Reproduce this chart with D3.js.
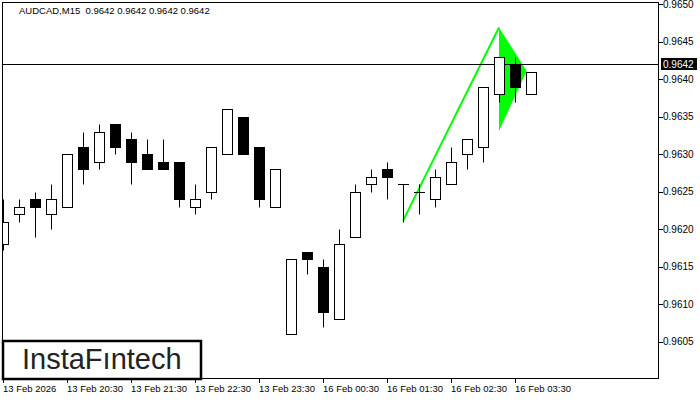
<!DOCTYPE html>
<html><head><meta charset="utf-8">
<script src="https://cdn.jsdelivr.net/npm/d3@7/dist/d3.min.js"></script>
<style>body{margin:0;background:#fff}svg{display:block}text{font-family:"Liberation Sans",Arial,sans-serif}</style>
</head><body><svg id="c" width="700" height="400"></svg>
<script>
const symbolTitle = "AUDCAD,M15  0.9642 0.9642 0.9642 0.9642";
const times = ["13 Feb 19:30","19:45","20:00","20:15","20:30","20:45","21:00","21:15","21:30","21:45","22:00","22:15","22:30","22:45","23:00","23:15","23:30","23:45",
 "16 Feb 00:00","00:15","00:30","00:45","01:00","01:15","01:30","01:45","02:00","02:15","02:30","02:45","03:00","03:15","03:30","03:45"];
const opens  = [0.9618,0.9622,0.9624,0.9622,0.9623,0.9631,0.9629,0.9634,0.9632,0.9630,0.9629,0.9629,0.9623,0.9625,0.9630,0.9635,0.9631,0.9623,0.9606,0.9617,0.9615,0.9608,0.9619,0.9626,0.9628,0.9626,0.9625,0.9624,0.9626,0.9630,0.9631,0.9638,0.9642,0.9638];
const highs  = [0.9624,0.9624,0.9625,0.9626,0.9630,0.9633,0.9634,0.9634,0.9633,0.9632,0.9632,0.9629,0.9626,0.9631,0.9636,0.9635,0.9631,0.9628,0.9616,0.9617,0.9616,0.9620,0.9626,0.9628,0.9629,0.9626,0.9626,0.9628,0.9631,0.9632,0.9639,0.9643,0.9643,0.9641];
const lows   = [0.96172,0.9621,0.9619,0.9620,0.9623,0.9626,0.9628,0.9630,0.9626,0.9628,0.9628,0.9623,0.9622,0.9624,0.9630,0.9630,0.9623,0.9623,0.9606,0.9614,0.9607,0.9608,0.9619,0.9625,0.9624,0.9621,0.9622,0.9623,0.9626,0.9628,0.9629,0.9637,0.9637,0.9638];
const closes = [0.9621,0.9623,0.9623,0.9624,0.9630,0.9628,0.9633,0.9631,0.9629,0.9628,0.9628,0.9624,0.9624,0.9631,0.9636,0.9630,0.9624,0.9628,0.9616,0.9616,0.9609,0.9618,0.9625,0.9627,0.9627,0.9626,0.9625,0.9627,0.9629,0.9632,0.9639,0.9643,0.9639,0.9641];
const yTicks = [0.9605,0.9610,0.9615,0.9620,0.9625,0.9630,0.9635,0.9640,0.9645,0.9650];
const xTickIdx = [0,4,8,12,16,20,24,28,32];
const xTickLabels = ["13 Feb 2026","13 Feb 20:30","13 Feb 21:30","13 Feb 22:30","13 Feb 23:30","16 Feb 00:30","16 Feb 01:30","16 Feb 02:30","16 Feb 03:30"];
const lastPrice = 0.9642;
// pennant pattern: pole from index 25 to 31, flag triangle
const poleIdx = [25,31], polePrice = [0.96211,0.96469];
const flagIdx = [31,32.73,31], flagPrice = [0.96469,0.96411,0.96331];
const logoText = "InstaFıntech";

const svg = d3.select("#c");
const L=2,T=2,R=659,B=379;
const x = d3.scaleLinear().domain([0,41]).range([3,659]);
const y = d3.scaleLinear().domain([0.9600,0.96503]).range([379,2]);
const ry = v => Math.round(y(v))+0.5;

svg.append("defs").append("clipPath").attr("id","pc").append("rect").attr("x",L).attr("y",T).attr("width",R-L).attr("height",B-T);
const plot = svg.append("g").attr("clip-path","url(#pc)");

// pattern
plot.append("line").attr("x1",x(poleIdx[0])).attr("y1",y(polePrice[0])).attr("x2",x(poleIdx[1])).attr("y2",y(polePrice[1]))
 .attr("stroke","#00ff00").attr("stroke-width",2);
plot.append("polygon").attr("points",flagIdx.map((d,i)=>x(d)+","+y(flagPrice[i])).join(" ")).attr("fill","#00ff00");

// price line
plot.append("line").attr("x1",L).attr("x2",R).attr("y1",ry(lastPrice)).attr("y2",ry(lastPrice)).attr("stroke","#000");

// candles
const data = opens.map((o,i)=>({i,o,h:highs[i],l:lows[i],c:closes[i]}));
const g = plot.selectAll("g.c").data(data).join("g");
g.append("line").attr("x1",d=>x(d.i)+0.5).attr("x2",d=>x(d.i)+0.5).attr("y1",d=>ry(d.h)).attr("y2",d=>ry(d.l)).attr("stroke","#000");
g.each(function(d){
  const s=d3.select(this), cx=x(d.i);
  const top=ry(Math.max(d.o,d.c)), bot=ry(Math.min(d.o,d.c));
  if (Math.abs(bot-top)<1){
    s.append("line").attr("x1",cx-5).attr("x2",cx+6).attr("y1",top).attr("y2",top).attr("stroke","#000");
  } else {
    s.append("rect").attr("x",cx-4.5).attr("y",top).attr("width",10).attr("height",bot-top)
     .attr("fill",d.c>=d.o?"#fff":"#000").attr("stroke","#000");
  }
});

// frame
svg.append("rect").attr("x",L+0.5).attr("y",T+0.5).attr("width",R-L-1).attr("height",B-T-1).attr("fill","none").attr("stroke","#000");

// y axis
const ya = svg.append("g");
ya.selectAll("line").data(yTicks).join("line").attr("x1",R).attr("x2",R+4).attr("y1",d=>ry(d)).attr("y2",d=>ry(d)).attr("stroke","#000");
ya.selectAll("text").data(yTicks).join("text").attr("x",R+4).attr("y",d=>y(d)+3.5).attr("font-size",10).text(d=>d.toFixed(4));

// last price label
svg.append("rect").attr("x",661).attr("y",ry(lastPrice)-6.5).attr("width",36).attr("height",12).attr("fill","#000");
svg.append("text").attr("x",663).attr("y",y(lastPrice)+3.5).attr("font-size",10).attr("fill","#fff").text(lastPrice.toFixed(4));

// x axis
const xa = svg.append("g");
xa.selectAll("line").data(xTickIdx).join("line").attr("x1",d=>x(d)+0.5).attr("x2",d=>x(d)+0.5).attr("y1",B).attr("y2",B+4).attr("stroke","#000");
xa.selectAll("text").data(xTickIdx).join("text").attr("x",d=>x(d)).attr("y",392).attr("font-size",9.5).text((d,i)=>xTickLabels[i]);

// title
svg.append("text").attr("x",19).attr("y",14).attr("font-size",9.5).attr("fill","#000").attr("xml:space","preserve").style("white-space","pre").text(symbolTitle);

// logo
svg.append("rect").attr("x",3).attr("y",341).attr("width",198).attr("height",38).attr("fill","#fff").attr("stroke","#000").attr("stroke-width",2.5);
svg.append("text").attr("x",22).attr("y",369).attr("font-size",29).attr("fill","#222").text(logoText);
</script></body></html>
